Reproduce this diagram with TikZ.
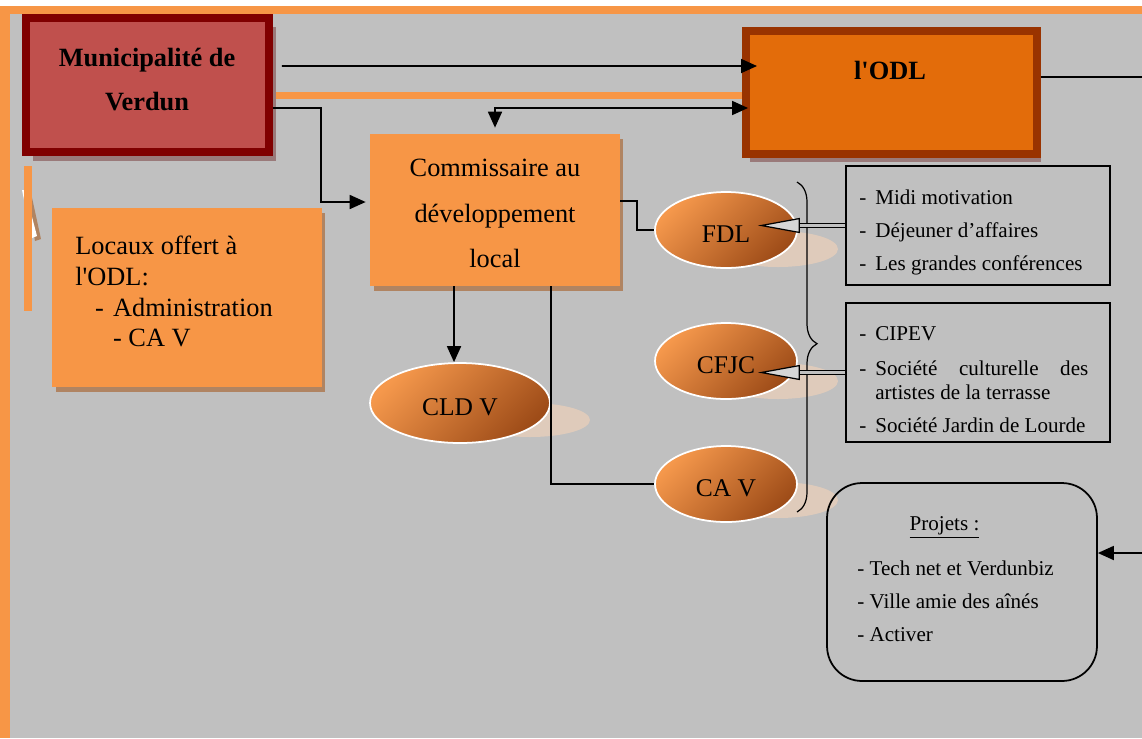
\documentclass[tikz,border=0pt]{standalone}
\usepackage{fontspec}
\setmainfont{Liberation Serif}[Ligatures=TeXOff]
\usetikzlibrary{arrows.meta,shapes.geometric,shadows,decorations.pathreplacing,calc}
\definecolor{bgg}{HTML}{C0C0C0}
\definecolor{orng}{HTML}{F79646}
\definecolor{munif}{HTML}{C0504D}
\definecolor{munib}{HTML}{800000}
\definecolor{odlf}{HTML}{E36C0A}
\definecolor{odlb}{HTML}{993300}
\definecolor{shmauve}{HTML}{9A7A7A}
\definecolor{shbrown}{HTML}{B08462}
\definecolor{ellsh}{HTML}{DFCBBB}
\definecolor{elllight}{HTML}{F5984C}
\definecolor{elldark}{HTML}{9E4C18}
\definecolor{tipg}{HTML}{D6D6D6}
\begin{document}
\begin{tikzpicture}[x=0.02cm,y=-0.02cm,
  conn/.style={line width=1pt,draw=black},
  arr/.style={conn,-{Triangle[length=0.32cm,width=0.28cm]}},
  arrtwo/.style={conn,{Triangle[length=0.32cm,width=0.28cm]}-{Triangle[length=0.32cm,width=0.28cm]}},
  hollow/.style={line width=0.6pt,draw=black,double=bgg,double distance=1.4pt,
    -{Triangle[length=0.84cm,width=0.3cm,line width=0.7pt,fill=tipg]}},
  munibox/.style={draw=munib,line width=0.16cm,fill=munif,minimum width=4.86cm,minimum height=2.68cm,
    drop shadow={shadow xshift=0.14cm,shadow yshift=-0.18cm,fill=shmauve,opacity=1}},
  odlbox/.style={draw=odlb,line width=0.16cm,fill=odlf,minimum width=5.82cm,minimum height=2.46cm,
    drop shadow={shadow xshift=0.08cm,shadow yshift=-0.16cm,fill=shmauve,opacity=1}},
  combox/.style={fill=orng,inner sep=0pt,
    drop shadow={shadow xshift=0.07cm,shadow yshift=-0.1cm,fill=shbrown,opacity=1}},
  ell/.style={ellipse,draw=white,line width=1pt,top color=elllight,bottom color=elldark,shading angle=45,
    minimum width=2.84cm,minimum height=1.52cm,inner sep=0pt,
    font=\fontsize{14.5}{17}\selectfont,text height=14.2pt,text depth=0pt},
  listbox/.style={draw,line width=1pt,minimum width=5.28cm},
  listtext/.style={align=left,anchor=west,inner sep=0pt},
]
\useasboundingbox (0,0) rectangle (1142,738);
% background
\fill[white] (0,0) rectangle (1142,738);
\fill[orng] (0,6) rectangle (1142,738);
\fill[bgg] (10,14) rectangle (1142,738);
\fill[orng] (273,92) rectangle (745,99);
\fill[shbrown] (27,193) -- (31,193) -- (41,239) -- (35,241) -- cycle;
\fill[white] (22,190) -- (25,190) -- (37,236) -- (32,238) -- cycle;
\fill[orng] (24,166) rectangle (32,311);
% ellipse shadows
\fill[ellsh] (778,249) ellipse [x radius=1.2cm, y radius=0.36cm];
\fill[ellsh] (778,381) ellipse [x radius=1.2cm, y radius=0.36cm];
\fill[ellsh] (778,500) ellipse [x radius=1.2cm, y radius=0.36cm];
\fill[ellsh] (530,420) ellipse [x radius=1.2cm, y radius=0.34cm];
% boxes
\node[munibox] (muni) at (147.5,85) {};
\node[font=\bfseries\fontsize{15}{25.5}\selectfont,align=center] (munit) at (147,79.5) {Municipalité de\\Verdun};
\node[odlbox] (odl) at (891.5,92.5) {};
\node[font=\bfseries\fontsize{15}{18}\selectfont] (odlt) at (890,70) {l'ODL};
\node[combox,minimum width=5cm,minimum height=3.04cm] (comm) at (495,210) {};
\node[font=\fontsize{15}{26}\selectfont,align=center] (commt) at (495,213.5) {Commissaire au\\développement\\local};
\node[combox,minimum width=5.4cm,minimum height=3.58cm] (loc) at (187,297.5) {};
\node[font=\fontsize{15}{17.6}\selectfont,listtext] (loct) at (75,291.5)
  {Locaux offert à\\l'ODL:\\\hspace*{11.3pt}-\hspace*{5.2pt}Administration\\\hspace*{21.5pt}- CA V};
% ellipses
\node[ell] (fdl) at (726,230) {FDL};
\node[ell] (cfjc) at (726,361) {CFJC};
\node[ell,minimum width=3.6cm,minimum height=1.6cm] (cldv) at (460,403) {CLD V};
\node[ell] (cav) at (726,484) {CA V};
% list boxes
\node[listbox,minimum height=2.38cm] (lst1) at (978,225.5) {};
\node[listtext,font=\fontsize{12}{18.8}\selectfont] (lst1t) at (859,232.5)
  {\makebox[0.32cm][l]{-}Midi motivation\\
   \makebox[0.32cm][l]{-}Déjeuner d’affaires\\
   \makebox[0.32cm][l]{-}Les grandes conférences};
\node[listbox,minimum height=2.78cm] (lst2) at (978,372.5) {};
\node[listtext,font=\fontsize{12}{13.7}\selectfont] (lst2t) at (859,379.5)
  {\makebox[0.32cm][l]{-}CIPEV\\[6.3pt]
   \makebox[0.32cm][l]{-}\hbox to 4.26cm{Société\hfill culturelle\hfill des}\\
   \hspace*{0.32cm}artistes de la terrasse\\[5.1pt]
   \makebox[0.32cm][l]{-}Société Jardin de Lourde};
\node[draw,line width=1pt,rounded corners=0.7cm,minimum width=5.4cm,minimum height=3.96cm] (proj) at (962,582) {};
\node[font=\fontsize{12}{14}\selectfont] (projt) at (944.5,527.5) {\underline{Projets :}};
\node[font=\fontsize{12}{18.7}\selectfont,listtext] (proji) at (857,601)
  {- Tech net et Verdunbiz\\- Ville amie des aînés\\- Activer};
% brace
\coordinate (bt) at (797,182);
\coordinate (bb) at (797,512);
\draw[line width=0.7pt,decorate,decoration={brace,amplitude=0.4cm,aspect=0.49}] (bt) -- (bb);
% connectors
\draw[arr,shorten <=0.18cm,shorten >=-0.3cm] ([yshift=0.38cm]muni.east) -- ([yshift=0.53cm]odl.west);
\draw[arrtwo,shorten <=-0.12cm,shorten >=0.12cm] ([yshift=-0.31cm]odl.west) -| (comm.north);
\draw[arr,shorten >=0.08cm] ([yshift=-0.46cm]muni.east) -- ++(0.96cm,0) |- ([yshift=0.16cm]comm.west);
\draw[conn] ([yshift=0.18cm]comm.east) -- ++(0.34cm,0) |- (fdl.west);
\draw[arr] ([xshift=-0.82cm]comm.south) coordinate (c5) -- (c5 |- cldv.north);
\draw[conn] ([xshift=1.12cm]comm.south) |- (cav.west);
\draw[hollow,shorten >=-0.8cm] (lst1.west) -- (fdl.east |- lst1.west);
\draw[hollow,shorten >=-0.8cm] (lst2.west) -- (cfjc.east |- lst2.west);
\coordinate (redgea) at (1142,77);
\draw[conn] (odl.east |- redgea) -- (redgea);
\coordinate (redgeb) at (1142,553);
\draw[arr] (redgeb) -- (proj.east |- redgeb);
\end{tikzpicture}
\end{document}
